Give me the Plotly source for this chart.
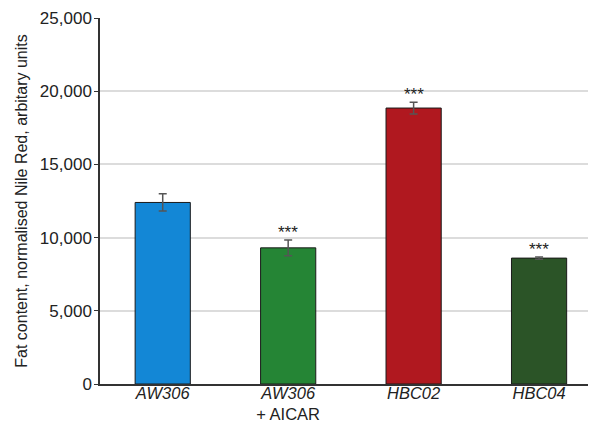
import plotly.graph_objects as go

categories = ["<i>AW306</i>", "<i>AW306</i><br>+ AICAR", "<i>HBC02</i>", "<i>HBC04</i>"]
values = [12400, 9300, 18850, 8600]
errors = [590, 540, 400, 80]
significance = ["", "***", "***", "***"]
colors = ["#1387d6", "#258535", "#b0181f", "#2b5427"]
y_ticks = [0, 5000, 10000, 15000, 20000, 25000]

x_idx = list(range(len(categories)))

fig = go.Figure()
fig.add_trace(go.Bar(
    x=x_idx, y=values, width=0.44,
    marker=dict(color=colors, line=dict(color="#1a1a1a", width=1)),
    error_y=dict(type="data", array=errors, visible=True, color="#555555", thickness=1.5, width=4),
    showlegend=False,
))

for i, (v, e, s) in enumerate(zip(values, errors, significance)):
    if s:
        fig.add_annotation(x=i, y=v + e, text=s, showarrow=False, yanchor="bottom",
                           yshift=-4, font=dict(size=17, color="#222222"))

font = "Liberation Sans, Arial, sans-serif"
fig.update_layout(
    width=590, height=423,
    margin=dict(l=100, r=2, t=18, b=39),
    plot_bgcolor="white", paper_bgcolor="white",
    font=dict(family=font, color="#222222", size=17),
    bargap=0.5,
)
fig.update_xaxes(
    range=[-0.5, 3.39], tickmode="array", tickvals=x_idx, ticktext=categories,
    showline=True, linecolor="#333333", linewidth=1.5, showgrid=False,
    ticks="", tickfont=dict(size=16.5, color="#222222"), zeroline=False,
    automargin=False, ticklabelstandoff=-7,
)
fig.update_yaxes(
    range=[0, 25000], tickvals=y_ticks, tickformat=",d",
    showline=True, linecolor="#333333", linewidth=1.5,
    showgrid=True, gridcolor="#dcdcdc", gridwidth=1.5,
    ticks="outside", ticklen=4, tickcolor="#333333",
    tickfont=dict(size=17, color="#222222"), zeroline=False,
    automargin=False, ticklabelstandoff=-1,
    title=dict(text="Fat content, normalised Nile Red, arbitary units", font=dict(size=16, color="#222222"), standoff=8),
)

fig.write_html(
    "out.html",
    config={"displayModeBar": False},
    post_script="document.body.style.margin='0';document.body.style.overflow='hidden';document.documentElement.style.overflow='hidden';",
)
